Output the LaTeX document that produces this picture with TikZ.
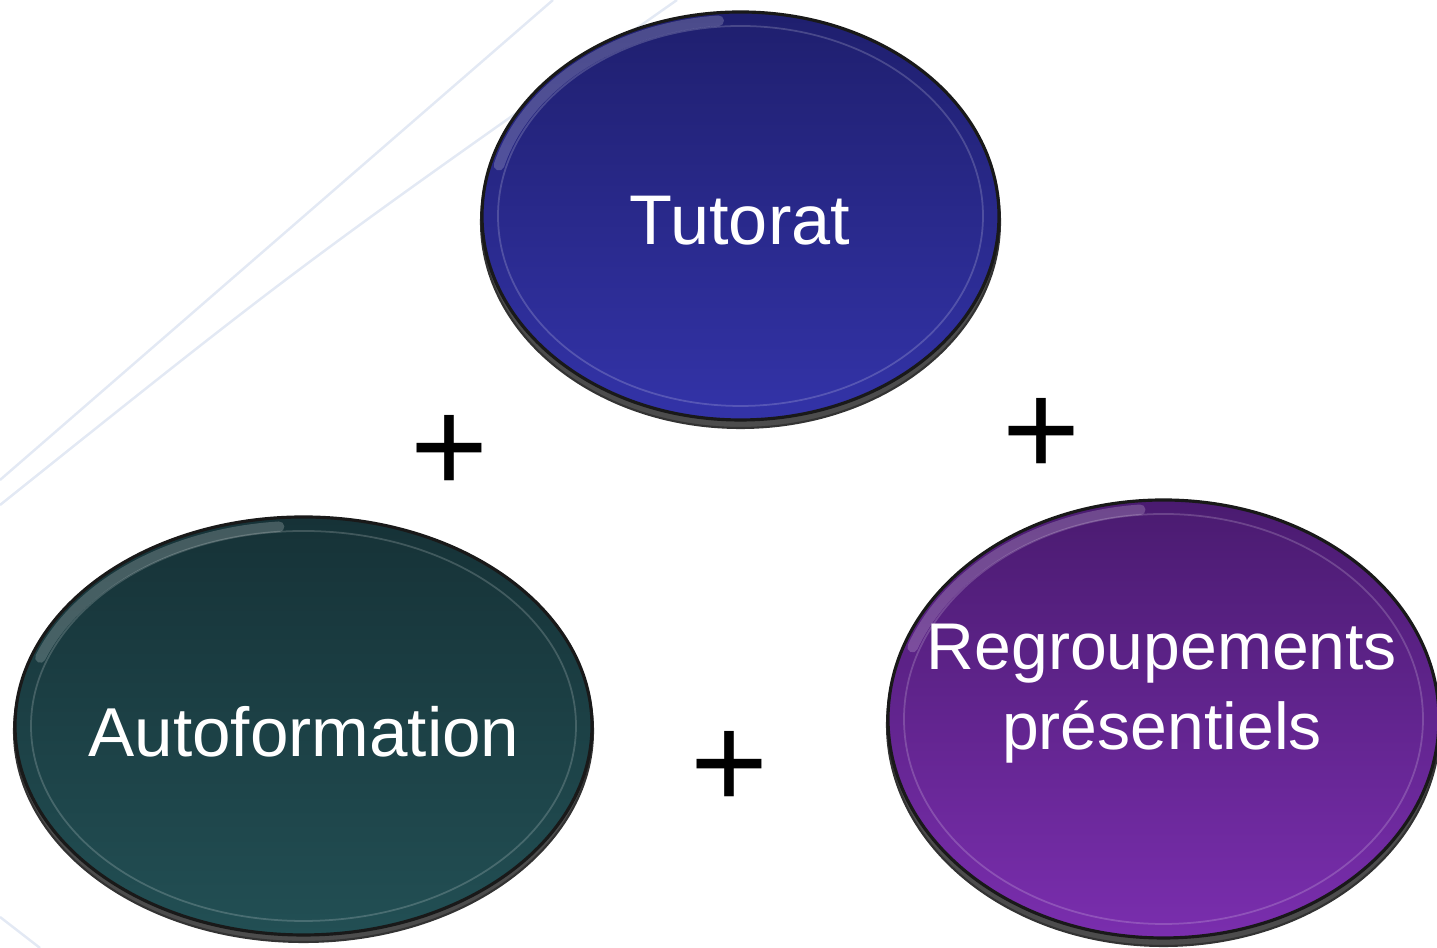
\documentclass[tikz,border=0pt]{standalone}
\usepackage{fontspec}
\setmainfont{Liberation Sans}
\usetikzlibrary{shapes.geometric}

\definecolor{tutTop}{HTML}{1F1F6E}
\definecolor{tutBot}{HTML}{3333A8}
\definecolor{autTop}{HTML}{163237}
\definecolor{autBot}{HTML}{224F54}
\definecolor{regTop}{HTML}{4A1B70}
\definecolor{regBot}{HTML}{7A2EAE}
\definecolor{deco}{HTML}{E3E9F4}

\tikzset{
	disc/.style={ellipse, draw=black!90, line width=0.9pt, inner sep=0pt},
	discrim/.style={ellipse, draw=black!80, fill=black!70, line width=0.6pt, inner sep=0pt},
	discring/.style={ellipse, draw=white, draw opacity=0.18, line width=0.5pt, inner sep=0pt},
	glint/.style={white, opacity=0.2, line width=3pt, line cap=round},
	disctext/.style={text=white, anchor=base, inner sep=0pt},
	plussign/.style={font=\fontsize{38}{40}\selectfont, anchor=base, inner sep=0pt},
	decoline/.style={deco, line width=0.7pt}
}

\begin{document}
\begin{tikzpicture}

\path [use as bounding box] (0,0) rectangle (14.37,9.48);

% BACKGROUND
\draw [decoline] (5.53,9.48) -- (0,4.68);
\draw [decoline] (6.77,9.48) .. controls (3.00,6.83) .. (0,4.43);
\draw [decoline] (0,0.31) -- (0.40,0);

% RIMS
\node [discrim, minimum width=5.19cm, minimum height=4.12cm] (tutoratRim) at (7.405,7.26) {};
\node [discrim, minimum width=5.79cm, minimum height=4.22cm] (autoRim) at (3.035,2.17) {};
\node [discrim, minimum width=5.53cm, minimum height=4.42cm] (regroupRim) at (11.635,2.23) {};

% DISCS
\node [disc, top color=tutTop, bottom color=tutBot, minimum width=5.17cm, minimum height=4.08cm] (tutorat) at (7.405,7.32) {};
\node [disc, top color=autTop, bottom color=autBot, minimum width=5.77cm, minimum height=4.18cm] (auto) at (3.035,2.22) {};
\node [disc, top color=regTop, bottom color=regBot, minimum width=5.51cm, minimum height=4.38cm] (regroup) at (11.635,2.29) {};

% RINGS
\node [discring, minimum width=4.85cm, minimum height=3.80cm] (tutoratRing) at (tutorat.center) {};
\node [discring, minimum width=5.45cm, minimum height=3.90cm] (autoRing) at (auto.center) {};
\node [discring, minimum width=5.19cm, minimum height=4.10cm] (regroupRing) at (regroup.center) {};

% GLINTS
\draw [glint] (tutorat.center) ++(165:2.5 and 1.96) arc [start angle=165, end angle=95, x radius=2.5, y radius=1.96];
\draw [glint] (auto.center) ++(160:2.8 and 2.0) arc [start angle=160, end angle=95, x radius=2.8, y radius=2.0];
\draw [glint] (regroup.center) ++(160:2.67 and 2.1) arc [start angle=160, end angle=95, x radius=2.67, y radius=2.1];

% TEXTS
\node [disctext, font=\fontsize{20}{24}\selectfont] (tutoratText) at (7.40,7.03) {Tutorat};
\node [disctext, font=\fontsize{19.7}{24}\selectfont] (autoText) at (3.04,1.91) {Autoformation};
\node [disctext, align=center, font=\fontsize{18.8}{22.8}\selectfont] (regroupText) at (11.62,1.98) {Regroupements\\présentiels};

% PLUS SIGNS
\node [plussign] (plusLeft) at (4.49,4.55) {+};
\node [plussign] (plusRight) at (10.41,4.72) {+};
\node [plussign] (plusBottom) at (7.29,1.39) {+};

\end{tikzpicture}
\end{document}
